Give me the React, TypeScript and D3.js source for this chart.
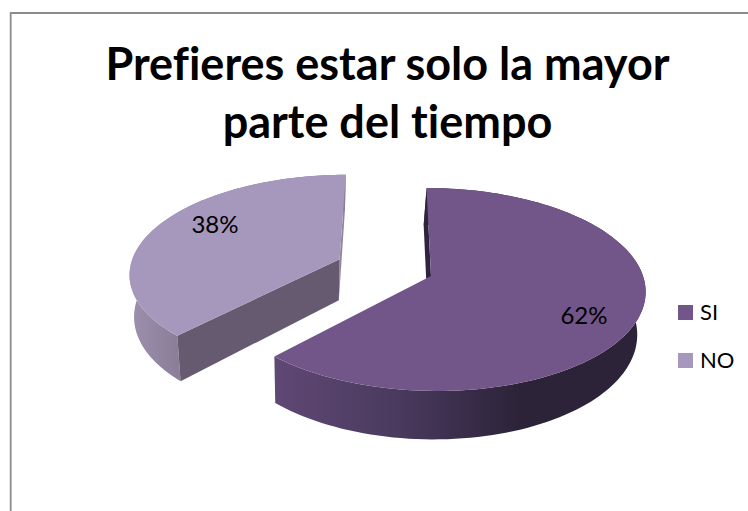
import { useRef, useEffect } from "react";
import * as d3 from "d3";

const categories = ["SI", "NO"];
const values = [62, 38];
const titleLines = ["Prefieres estar solo la mayor", "parte del tiempo"];

const width = 748;
const height = 511;
const fontFamily = "Lato, 'Open Sans', sans-serif";

// Projection of the tilted pie: u is right, v is away from the viewer
const center = { x: 431, y: 276 };
const radius = 212;
const tilt = 99.7;
const persp = 0.1328;
const lean = 5;
const depth = 42;
const vanishX = 310;
const floorScale = 0.975;
const explode = [0, 0.47];

type Pt = [number, number];

const project = (u: number, v: number): Pt => {
  const den = 1 + persp * v;
  return [
    center.x + (radius * u - lean * v) / den,
    center.y - (tilt * v) / den,
  ];
};

const projectFloor = (u: number, v: number): Pt => {
  const [x, y] = project(u, v);
  const den = 1 + persp * v;
  return [vanishX + (x - vanishX) * floorScale, y + depth / den];
};

const App = () => {
  const svgRef = useRef<SVGSVGElement | null>(null);

  useEffect(() => {
    if (!svgRef.current) return;
    const svg = d3.select(svgRef.current);
    svg.selectAll("*").remove();

    svg.append("rect").attr("width", width).attr("height", height).attr("fill", "#fff");

    // Chart frame, it runs off the page on the right and at the bottom
    svg
      .append("path")
      .attr("d", `M10.7,${height}V13H${width}`)
      .attr("fill", "none")
      .attr("stroke", "#8c8c8c")
      .attr("stroke-width", 1.8);

    const title = svg
      .append("text")
      .attr("text-anchor", "middle")
      .attr("font-family", fontFamily)
      .attr("font-weight", 700)
      .attr("font-size", 45)
      .style("font-variant-ligatures", "none")
      .attr("fill", "#000");
    titleLines.forEach((line, i) => {
      title
        .append("tspan")
        .attr("x", 387.5)
        .attr("y", 80 + i * 57.5)
        .text(line);
    });

    const defs = svg.append("defs");
    const gradient = (id: string, x1: number, x2: number, stops: string[]) => {
      const g = defs
        .append("linearGradient")
        .attr("id", id)
        .attr("gradientUnits", "userSpaceOnUse")
        .attr("x1", x1)
        .attr("x2", x2)
        .attr("y1", 0)
        .attr("y2", 0);
      stops.forEach((c, i) => {
        g.append("stop")
          .attr("offset", i / (stops.length - 1))
          .attr("stop-color", c);
      });
    };
    gradient("wallSi", 276, 640, ["#5f4874", "#4a3a5e", "#2c2339", "#2c2339"]);
    gradient("wallNo", 130, 180, ["#9d90ad", "#8a7d98"]);

    const styles = [
      { top: "#735689", wall: "url(#wallSi)", startFace: "#2f2440", endFace: null },
      { top: "#a698bd", wall: "url(#wallNo)", startFace: "#655a70", endFace: "#9186a0" },
    ];

    const pie = d3.pie<number>().sort(null);
    const arcs = pie(values);
    const line = d3.line<Pt>().curve(d3.curveLinear);

    arcs.forEach((a, i) => {
      const mid = (a.startAngle + a.endAngle) / 2;
      const ou = Math.sin(mid) * explode[i];
      const ov = Math.cos(mid) * explode[i];
      const angles = d3.range(0, 121).map(
        (k) => a.startAngle + ((a.endAngle - a.startAngle) * k) / 120
      );
      const rim = angles.map((t) => [ou + Math.sin(t), ov + Math.cos(t)] as Pt);
      const s = styles[i];
      const g = svg.append("g");

      const topRim = rim.map(([u, v]) => project(u, v));
      const floorRim = rim.map(([u, v]) => projectFloor(u, v));
      const apexTop = project(ou, ov);
      const apexFloor = projectFloor(ou, ov);

      // cut face at the end angle, only the exploded slice shows it
      if (s.endFace) {
        g.append("path")
          .attr("d", line([topRim[120], apexTop, apexFloor, floorRim[120]]) + "Z")
          .attr("fill", s.endFace);
      }
      // outer wall
      g.append("path")
        .attr("d", line([...topRim, ...floorRim.slice().reverse()]) + "Z")
        .attr("fill", s.wall);
      // cut face at the start angle
      g.append("path")
        .attr("d", line([topRim[0], apexTop, apexFloor, floorRim[0]]) + "Z")
        .attr("fill", s.startFace);
      // top
      g.append("path")
        .attr("d", line([apexTop, ...topRim]) + "Z")
        .attr("fill", s.top);
    });

    // Data labels
    const labelSpots: Pt[] = [
      [584, 324],
      [215, 233],
    ];
    arcs.forEach((a, i) => {
      svg
        .append("text")
        .attr("x", labelSpots[i][0])
        .attr("y", labelSpots[i][1])
        .attr("text-anchor", "middle")
        .attr("font-family", fontFamily)
        .attr("font-size", 24)
        .attr("fill", "#000")
        .text(`${Math.round((a.value / d3.sum(values)) * 100)}%`);
    });

    // Legend
    const legendY = d3
      .scalePoint<string>()
      .domain(categories)
      .range([312.5, 360.5]);
    categories.forEach((c, i) => {
      const y = legendY(c) ?? 0;
      svg
        .append("rect")
        .attr("x", 678)
        .attr("y", y - 7.5)
        .attr("width", 15)
        .attr("height", 15)
        .attr("fill", styles[i].top);
      svg
        .append("text")
        .attr("x", 700)
        .attr("y", y + 7.5)
        .attr("font-family", fontFamily)
        .attr("font-size", 22)
        .attr("fill", "#000")
        .text(c);
    });
  }, []);

  return (
    <svg
      ref={svgRef}
      width={width}
      height={height}
      style={{ position: "absolute", left: 0, top: 0 }}
    ></svg>
  );
};

export default App;
